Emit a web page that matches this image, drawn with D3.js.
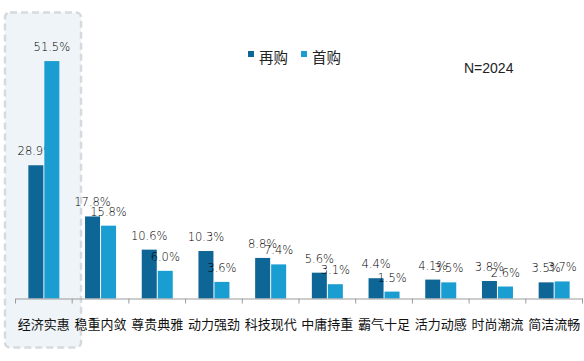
<!DOCTYPE html>
<html>
<head>
<meta charset="utf-8">
<script src="https://cdn.jsdelivr.net/npm/d3@7"></script>
<style>
  html, body { margin: 0; padding: 0; background: #fff; }
  svg { display: block; }
</style>
</head>
<body>
<svg id="chart" width="584" height="361"></svg>
<script>
const categories = ['经济实惠', '稳重内敛', '尊贵典雅', '动力强劲', '科技现代', '中庸持重', '霸气十足', '活力动感', '时尚潮流', '简洁流畅'];
const repurchase = [28.9, 17.8, 10.6, 10.3, 8.8, 5.6, 4.4, 4.1, 3.8, 3.5];
const firstPurchase = [51.5, 15.8, 6.0, 3.6, 7.4, 3.1, 1.5, 3.5, 2.6, 3.7];
const seriesNames = ['再购', '首购'];
const sampleNote = 'N=2024';

const colors = ['#0e6696', '#1a9dd0'];
const baseline = 298.5;

const svg = d3.select('#chart');

const x = d3.scaleBand()
  .domain(categories)
  .range([15.5, 582.5])
  .paddingInner(0)
  .paddingOuter(0);

const y = d3.scaleLinear()
  .domain([0, 60])
  .range([baseline, baseline - 60 * 4.61]);

// highlight box behind the first category
svg.append('rect')
  .attr('x', 5)
  .attr('y', 12.5)
  .attr('width', 76)
  .attr('height', 335)
  .attr('rx', 5)
  .attr('fill', '#eff4f8')
  .attr('stroke', '#d5dade')
  .attr('stroke-width', 2.5)
  .attr('stroke-dasharray', '7 4');

const barW = 15;
const gap = 1;
const series = [repurchase, firstPurchase];

series.forEach((values, s) => {
  const offset = s === 0 ? -barW - gap / 2 : gap / 2;
  const g = svg.append('g');
  g.selectAll('rect')
    .data(values)
    .join('rect')
    .attr('x', (d, i) => x(categories[i]) + x.bandwidth() / 2 + offset)
    .attr('y', (d) => y(d))
    .attr('width', barW)
    .attr('height', (d) => baseline - y(d))
    .attr('fill', colors[s]);

  g.selectAll('text')
    .data(values)
    .join('text')
    .attr('x', (d, i) => x(categories[i]) + x.bandwidth() / 2 + offset + barW / 2)
    .attr('y', (d) => y(d) - 10)
    .attr('text-anchor', 'middle')
    .attr('font-family', 'DejaVu Sans')
    .attr('font-weight', 200)
    .attr('font-size', 11.5)
    .attr('fill', '#000')
    .text((d) => `${d.toFixed(1)}%`);
});

// x axis
const axis = svg.append('g')
  .attr('transform', `translate(0,${baseline})`)
  .call(d3.axisBottom(x).tickSize(0).tickFormat(''));
axis.select('.domain').attr('stroke', '#9a9a9a');

axis.selectAll('.sep')
  .data(d3.range(categories.length + 1))
  .join('line')
  .attr('class', 'sep')
  .attr('x1', (i) => x.range()[0] + i * x.step())
  .attr('x2', (i) => x.range()[0] + i * x.step())
  .attr('y1', 0)
  .attr('y2', 5)
  .attr('stroke', '#9a9a9a');

svg.append('g')
  .selectAll('text')
  .data(categories)
  .join('text')
  .attr('x', (d) => x(d) + x.bandwidth() / 2)
  .attr('y', 329)
  .attr('text-anchor', 'middle')
  .attr('font-family', 'Noto Sans CJK SC')
  .attr('font-size', 13)
  .attr('fill', '#111')
  .text((d) => d);

// legend
const legend = svg.append('g').attr('transform', 'translate(248,51)');
const legendX = [0, 53];
seriesNames.forEach((name, i) => {
  legend.append('rect')
    .attr('x', legendX[i])
    .attr('y', 0)
    .attr('width', 6)
    .attr('height', 6)
    .attr('fill', colors[i]);
  legend.append('text')
    .attr('x', legendX[i] + 11)
    .attr('y', 12)
    .attr('font-family', 'Noto Sans CJK SC')
    .attr('font-size', 14.5)
    .attr('fill', '#222')
    .text(name);
});

svg.append('text')
  .attr('x', 464)
  .attr('y', 73)
  .attr('font-family', 'Liberation Sans')
  .attr('font-size', 14)
  .attr('fill', '#222')
  .text(sampleNote);
</script>
</body>
</html>
